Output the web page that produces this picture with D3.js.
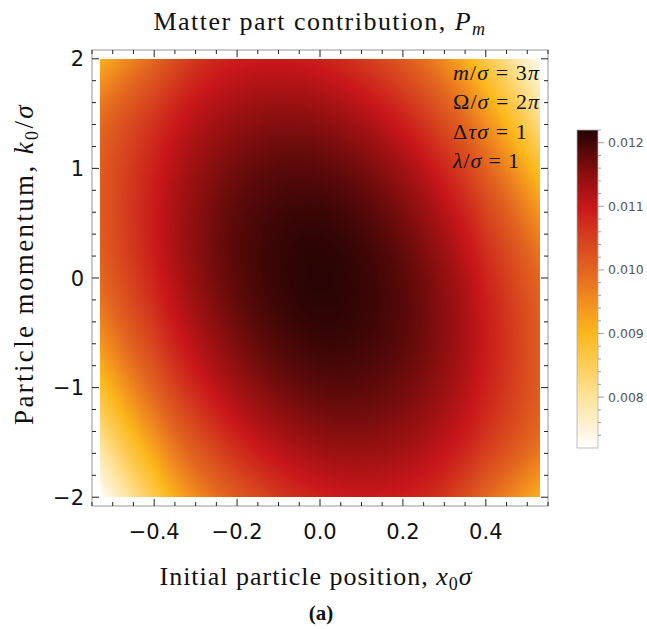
<!DOCTYPE html>
<html>
<head>
<meta charset="utf-8">
<script src="https://cdn.jsdelivr.net/npm/d3@7"></script>
<style>
body { margin: 0; background: #fff; }
</style>
</head>
<body>
<svg id="chart"></svg>
<script>
var W = 647, H = 629;

// grid of the picture: x0*sigma across, k0/sigma down (top row k=2)
var xs = [-0.53, -0.4, -0.3, -0.2, -0.1, 0, 0.1, 0.2, 0.3, 0.4, 0.53];
var ks = [2, 1.5, 1, 0.5, 0, -0.5, -1, -1.5, -2];

// P_m, one row per k0/sigma value
var pm_k20  = [0.00910, 0.01000, 0.01071, 0.01093, 0.01099, 0.01090, 0.01062, 0.01018, 0.00955, 0.00870, 0.00730];
var pm_k15  = [0.00995, 0.01073, 0.01115, 0.01141, 0.01152, 0.01147, 0.01124, 0.01087, 0.01030, 0.00945, 0.00805];
var pm_k10  = [0.01013, 0.01096, 0.01143, 0.01173, 0.01188, 0.01188, 0.01170, 0.01137, 0.01088, 0.01018, 0.00885];
var pm_k05  = [0.01014, 0.01104, 0.01155, 0.01190, 0.01208, 0.01214, 0.01200, 0.01172, 0.01127, 0.01065, 0.00955];
var pm_k00  = [0.01000, 0.01095, 0.01150, 0.01189, 0.01212, 0.01223, 0.01212, 0.01189, 0.01150, 0.01095, 0.01000];
var pm_km05 = [0.00955, 0.01065, 0.01127, 0.01172, 0.01200, 0.01214, 0.01208, 0.01190, 0.01155, 0.01104, 0.01014];
var pm_km10 = [0.00885, 0.01018, 0.01088, 0.01137, 0.01170, 0.01188, 0.01188, 0.01173, 0.01143, 0.01096, 0.01013];
var pm_km15 = [0.00805, 0.00945, 0.01030, 0.01087, 0.01124, 0.01147, 0.01152, 0.01141, 0.01115, 0.01073, 0.00995];
var pm_km20 = [0.00720, 0.00870, 0.00955, 0.01018, 0.01062, 0.01090, 0.01099, 0.01093, 0.01071, 0.01000, 0.00910];
var grid = [pm_k20, pm_k15, pm_k10, pm_k05, pm_k00, pm_km05, pm_km10, pm_km15, pm_km20];

// colour bar
var cbarDomain = [0.0072, 0.0122];
var cbarStops  = [0.0072, 0.0075, 0.0080, 0.0085, 0.0090, 0.0095, 0.0100, 0.0105, 0.0110, 0.0115, 0.0119, 0.0122];
var cbarColors = ["#ffffff", "#fff3d8", "#fee39b", "#fdcd58", "#fbb81c", "#f28d1e", "#e2641f", "#d6401e", "#c8161a", "#8c0f0f", "#520808", "#240303"];
var cbarTicks  = [0.008, 0.009, 0.010, 0.011, 0.012];

var xTicks = [-0.4, -0.2, 0, 0.2, 0.4];
var yTicks = [-2, -1, 0, 1, 2];

var svg = d3.select("#chart")
	.attr("width", W)
	.attr("height", H)
	.style("display", "block");

var x = d3.scaleLinear().domain([-0.55, 0.55]).range([92, 548]);
var y = d3.scaleLinear().domain([-2.08, 2.08]).range([506, 50]);
var color = d3.scaleLinear().domain(cbarStops).range(cbarColors).clamp(true);

////////////////////////////////////////////
// heat map, drawn into a canvas and placed as an image
var px0 = Math.round(x(xs[0])), px1 = Math.round(x(xs[xs.length - 1]));
var py0 = Math.round(y(ks[0])), py1 = Math.round(y(ks[ks.length - 1]));
var cw = px1 - px0, ch = py1 - py0;

var xIdx = d3.scaleLinear().domain(xs).range(d3.range(xs.length)).clamp(true);
var kIdx = d3.scaleLinear().domain(ks).range(d3.range(ks.length)).clamp(true);

var rowInterp = grid.map(function(r) { return d3.interpolateBasis(r); });
var cols = [];
for (var i = 0; i < cw; i++) {
	var t = xIdx(x.invert(px0 + i + 0.5)) / (xs.length - 1);
	cols.push(rowInterp.map(function(f) { return f(t); }));
}

var canvas = document.createElement("canvas");
canvas.width = cw;
canvas.height = ch;
var ctx = canvas.getContext("2d");
var img = ctx.createImageData(cw, ch);
for (var i = 0; i < cw; i++) {
	var f = d3.interpolateBasis(cols[i]);
	for (var j = 0; j < ch; j++) {
		var t = kIdx(y.invert(py0 + j + 0.5)) / (ks.length - 1);
		var c = d3.rgb(color(f(t)));
		var p = (j * cw + i) * 4;
		img.data[p] = c.r;
		img.data[p + 1] = c.g;
		img.data[p + 2] = c.b;
		img.data[p + 3] = 255;
	}
}
ctx.putImageData(img, 0, 0);

svg.append("image")
	.attr("x", px0)
	.attr("y", py0)
	.attr("width", cw)
	.attr("height", ch)
	.attr("preserveAspectRatio", "none")
	.attr("href", canvas.toDataURL());

////////////////////////////////////////////
// frame and ticks
var fx0 = x.range()[0], fx1 = x.range()[1];
var fy0 = y.range()[1], fy1 = y.range()[0];

svg.append("rect")
	.attr("x", fx0).attr("y", fy0)
	.attr("width", fx1 - fx0).attr("height", fy1 - fy0)
	.attr("fill", "none")
	.attr("stroke", "#a8a8a8")
	.attr("stroke-width", 1.2);

function minus(s) { return s.replace("-", "\u2212\u2009"); }

var xMinor = d3.range(-0.55, 0.5501, 0.05).map(function(v) { return Math.round(v * 100) / 100; });
var yMinor = d3.range(-2, 2.001, 0.2).map(function(v) { return Math.round(v * 10) / 10; });

var ticks = svg.append("g").attr("stroke", "#222").attr("stroke-width", 1);
xMinor.forEach(function(v) {
	var major = xTicks.some(function(t) { return Math.abs(t - v) < 1e-6; });
	var len = major ? 7 : 4;
	ticks.append("line").attr("x1", x(v)).attr("x2", x(v)).attr("y1", fy1).attr("y2", fy1 - len);
	ticks.append("line").attr("x1", x(v)).attr("x2", x(v)).attr("y1", fy0).attr("y2", fy0 + len);
});
yMinor.forEach(function(v) {
	var major = yTicks.some(function(t) { return Math.abs(t - v) < 1e-6; });
	var len = major ? 7 : 4;
	ticks.append("line").attr("y1", y(v)).attr("y2", y(v)).attr("x1", fx0).attr("x2", fx0 + len);
	ticks.append("line").attr("y1", y(v)).attr("y2", y(v)).attr("x1", fx1).attr("x2", fx1 - len);
});

svg.append("g").selectAll("text")
	.data(xTicks)
	.enter().append("text")
	.attr("x", function(d) { return x(d); })
	.attr("y", 539)
	.attr("text-anchor", "middle")
	.attr("font-family", "DejaVu Sans")
	.attr("font-size", "21px")
	.attr("fill", "#111")
	.text(function(d) { return minus(d3.format(".1f")(d)); });

svg.append("g").selectAll("text")
	.data(yTicks)
	.enter().append("text")
	.attr("x", 84)
	.attr("y", function(d) { return y(d) + 7.5; })
	.attr("text-anchor", "end")
	.attr("font-family", "DejaVu Sans")
	.attr("font-size", "21px")
	.attr("fill", "#111")
	.text(function(d) { return minus(d3.format("d")(d)); });

////////////////////////////////////////////
// texts with a bit of maths in them
function mathText(g, parts) {
	parts.forEach(function(p) {
		var ts = g.append("tspan").text(p.t);
		if (p.i) ts.attr("font-style", "italic");
		if (p.dy) ts.attr("dy", p.dy);
		if (p.fs) ts.attr("font-size", p.fs);
	});
	return g;
}

// widen a label so that it takes the width of the one in the picture
function fitWidth(g, target) {
	var w = g.node().getComputedTextLength();
	var n = g.text().length;
	if (n > 1) g.attr("letter-spacing", ((target - w) / n) + "px");
	return g;
}

var serif = "Liberation Serif";

fitWidth(mathText(svg.append("text")
	.attr("x", 320).attr("y", 30)
	.attr("text-anchor", "middle")
	.attr("font-family", serif)
	.attr("font-size", "26px")
	.attr("fill", "#111"),
	[{t: "Matter part contribution, "}, {t: "P", i: true}, {t: "m", i: true, dy: 5, fs: "18px"}]), 333);

fitWidth(mathText(svg.append("text")
	.attr("x", 316).attr("y", 585)
	.attr("text-anchor", "middle")
	.attr("font-family", serif)
	.attr("font-size", "26px")
	.attr("fill", "#111"),
	[{t: "Initial particle position, "}, {t: "x", i: true}, {t: "0", dy: 5, fs: "18px"}, {t: "σ", i: true, dy: -5}]), 313);

fitWidth(mathText(svg.append("text")
	.attr("transform", "translate(33,264) rotate(-90)")
	.attr("text-anchor", "middle")
	.attr("font-family", serif)
	.attr("font-size", "27px")
	.attr("fill", "#111"),
	[{t: "Particle momentum, "}, {t: "k", i: true}, {t: "0", dy: 5, fs: "18px"}, {t: "/", dy: -5}, {t: "σ", i: true}]), 322);

svg.append("text")
	.attr("x", 321).attr("y", 620)
	.attr("text-anchor", "middle")
	.attr("font-family", serif)
	.attr("font-size", "21px")
	.attr("font-weight", "bold")
	.attr("fill", "#111")
	.text("(a)");

var notes = [
	[{t: "m", i: true}, {t: "/"}, {t: "σ", i: true}, {t: " = 3"}, {t: "π", i: true}],
	[{t: "Ω/"}, {t: "σ", i: true}, {t: " = 2"}, {t: "π", i: true}],
	[{t: "Δ"}, {t: "τσ", i: true}, {t: " = 1"}],
	[{t: "λ", i: true}, {t: "/"}, {t: "σ", i: true}, {t: " = 1"}]
];
var noteWidths = [87, 87, 75, 67];
notes.forEach(function(n, i) {
	fitWidth(mathText(svg.append("text")
		.attr("x", 453).attr("y", 80 + i * 29.3)
		.attr("font-family", serif)
		.attr("font-size", "22px")
		.attr("fill", "#111"), n), noteWidths[i]);
});

////////////////////////////////////////////
// colour bar
var cb = d3.scaleLinear().domain(cbarDomain).range([448, 130]);
var defs = svg.append("defs");
var grad = defs.append("linearGradient")
	.attr("id", "cbar")
	.attr("x1", 0).attr("y1", 1).attr("x2", 0).attr("y2", 0);
d3.range(0, 1.0001, 0.02).forEach(function(t) {
	var v = cbarDomain[0] + t * (cbarDomain[1] - cbarDomain[0]);
	grad.append("stop").attr("offset", t).attr("stop-color", color(v));
});

svg.append("rect")
	.attr("x", 577).attr("y", cb(cbarDomain[1]))
	.attr("width", 21).attr("height", cb(cbarDomain[0]) - cb(cbarDomain[1]))
	.attr("fill", "url(#cbar)")
	.attr("stroke", "#b0b0b0")
	.attr("stroke-width", 0.8);

var cbMinor = d3.range(0.0074, 0.01221, 0.0002);
svg.append("g").selectAll("line")
	.data(cbMinor)
	.enter().append("line")
	.attr("x1", 598)
	.attr("x2", function(d) {
		var major = cbarTicks.some(function(t) { return Math.abs(t - d) < 1e-7; });
		return major ? 604 : 601;
	})
	.attr("y1", function(d) { return cb(d); })
	.attr("y2", function(d) { return cb(d); })
	.attr("stroke", "#888")
	.attr("stroke-width", 0.8);

svg.append("g").selectAll("text")
	.data(cbarTicks)
	.enter().append("text")
	.attr("x", 608)
	.attr("y", function(d) { return cb(d) + 4.5; })
	.attr("font-family", "DejaVu Sans")
	.attr("font-size", "12.5px")
	.attr("fill", "#555")
	.text(function(d) { return d3.format(".3f")(d); });
</script>
</body>
</html>
